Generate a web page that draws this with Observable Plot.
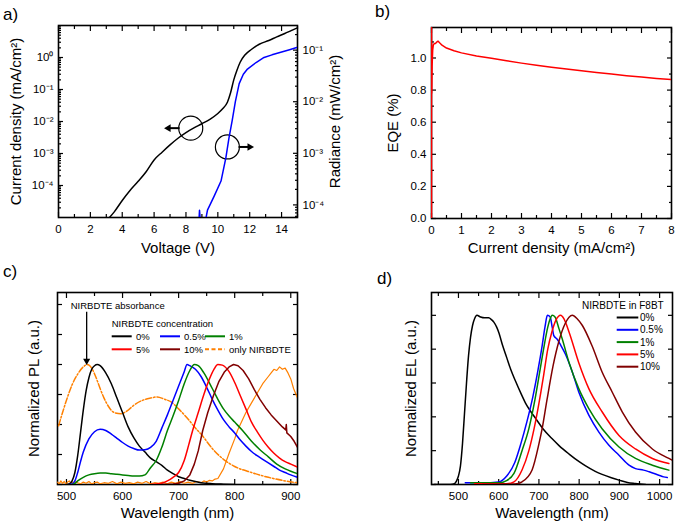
<!DOCTYPE html>
<html><head><meta charset="utf-8">
<script src="https://cdn.jsdelivr.net/npm/d3@7"></script>
<script src="https://cdn.jsdelivr.net/npm/@observablehq/plot@0.6"></script>
<style>
body{margin:0;background:#fff}
#root{position:relative;width:675px;height:531px;overflow:hidden;background:#fff;font-family:"Liberation Sans",Arial,sans-serif}
</style></head><body><div id="root"></div>
<script>
// ---------- Panel a: J-V-L ----------
const voltJ = [3.2,3.5,4,4.5,5,5.5,6,6.5,7,7.5,8,8.5,9,9.5,10,10.3,10.6,10.8,11.0,11.2,11.4,11.7,12.1,12.6,13.2,13.7,14.2,14.6,15];
const currentJ = [1.0e-5,1.5e-5,3.4e-5,7.1e-5,1.35e-4,2.7e-4,6.3e-4,1.1e-3,1.86e-3,3.0e-3,4.5e-3,6.3e-3,8.5e-3,1.17e-2,1.78e-2,2.5e-2,4.0e-2,7.9e-2,0.2,0.4,0.71,1.2,1.78,2.6,3.4,4.4,5.6,6.9,8.5];
const voltL = [8.8,8.85,8.9,8.95,9.2,9.35,9.77,10.2,10.5,10.7,10.9,11.1,11.34,11.6,11.86,12.4,12.9,13.4,13.95,14.5,14.95];
const radiance = [4.0e-5,7.9e-5,5.0e-5,4.5e-5,4.5e-5,7.9e-5,1.48e-4,2.9e-4,8.1e-4,2.0e-3,4.3e-3,1.0e-2,2.24e-2,3.4e-2,4.3e-2,5.75e-2,7.2e-2,8.1e-2,9.1e-2,0.102,0.112];
const circleV = [8.3, 10.6], circleJ = [6.2e-3, 1.6e-3];
const arrowFromV = [7.6, 11.3], arrowToV = [6.9, 12.0], arrowDir = [-90, 90];
const decadesJ = [1e-4,1e-3,1e-2,1e-1,1];
const decadesL = [1e-4,1e-3,1e-2,1e-1];
const voltTicks = [0,2,4,6,8,10,12,14];

// ---------- Panel b: EQE ----------
const currB = [0,0,0.01,0.02,0.04,0.06,0.09,0.13,0.18,0.22,0.27,0.35,0.5,0.75,1,1.5,2,2.5,3,3.5,4,4.5,5,5.5,6,6.5,7,7.5,8];
const eqeB = [0,1.25,0.78,0.95,1.05,1.08,1.09,1.09,1.1,1.105,1.095,1.08,1.062,1.045,1.032,1.012,0.998,0.983,0.968,0.955,0.943,0.931,0.92,0.91,0.9,0.89,0.882,0.873,0.865];
const eqeTicks = [0,0.2,0.4,0.6,0.8,1.0];
const currTicks = [0,1,2,3,4,5,6,7,8];

// ---------- Panel c: PL ----------
const wlPL0 = [500,505,510,515,520,525,530,535,540,545,550,555,560,570,580,590,600,610,620,630,640,650,660,670,680,690,700,710,720,740,760,780,800];
const pl0 = [0,0.005,0.03,0.1,0.24,0.43,0.62,0.78,0.89,0.96,0.99,1.0,0.99,0.93,0.84,0.72,0.6,0.48,0.39,0.32,0.27,0.22,0.19,0.16,0.12,0.09,0.065,0.05,0.035,0.015,0.007,0.003,0];
const wlPL05 = [505,510,515,520,525,530,540,550,560,570,580,590,600,610,620,630,640,650,660,670,680,690,700,710,715,720,730,740,750,760,770,780,790,800,810,820,830,840,850,860,870,880,890,900,912];
const pl05 = [0,0.005,0.03,0.1,0.19,0.27,0.38,0.44,0.46,0.45,0.42,0.385,0.35,0.32,0.3,0.287,0.29,0.31,0.36,0.47,0.58,0.7,0.82,0.94,1.0,0.99,0.96,0.9,0.81,0.71,0.62,0.54,0.48,0.43,0.37,0.32,0.275,0.24,0.21,0.18,0.15,0.12,0.1,0.08,0.06];
const wlPL1 = [510,515,520,530,540,550,560,570,580,590,600,610,620,630,640,650,660,670,680,690,700,710,720,728,735,745,760,770,780,790,800,814,830,845,860,875,890,900,912];
const pl1 = [0,0.01,0.03,0.06,0.08,0.09,0.095,0.095,0.09,0.085,0.08,0.075,0.07,0.07,0.08,0.14,0.2,0.31,0.45,0.57,0.7,0.84,0.95,1.0,0.99,0.93,0.8,0.71,0.63,0.57,0.52,0.45,0.36,0.29,0.23,0.17,0.13,0.11,0.09];
const wlPL5 = [650,660,670,680,690,700,710,718,725,735,745,755,763,770,778,790,800,810,820,830,840,850,860,870,880,890,900,912];
const pl5 = [0,0.005,0.01,0.03,0.06,0.1,0.2,0.33,0.45,0.6,0.75,0.88,0.96,1.0,0.995,0.94,0.85,0.74,0.63,0.52,0.44,0.37,0.31,0.26,0.22,0.19,0.17,0.145];
const wlPL10 = [670,690,700,710,720,728,735,743,752,762,772,782,790,798,806,815,825,835,845,855,865,875,885,891,892,893,900,906,912];
const pl10 = [0,0.005,0.01,0.03,0.08,0.17,0.28,0.45,0.6,0.74,0.86,0.94,0.98,1.0,0.99,0.95,0.88,0.79,0.71,0.64,0.58,0.53,0.48,0.455,0.5,0.43,0.4,0.36,0.31];
const wlAbs = [486,495,502,510,520,530,537,545,552,560,567,575,585,597,610,620,635,650,662,675,686,700,716,730,740,760,780,800,830,860,890,912];
const absOnly = [0.49,0.63,0.73,0.83,0.92,0.98,1.0,0.97,0.9,0.8,0.72,0.65,0.6,0.59,0.62,0.66,0.7,0.72,0.73,0.71,0.69,0.63,0.55,0.47,0.42,0.3,0.21,0.15,0.1,0.06,0.03,0.015];
const wlPLonly = [484,487,490,493,496,499,502,505,508,511,514,517,520,525,530,535,540,545,550,555,560,567,575,582,590,597,605,612,620,627,635,642,650,657,665,672,680,687,695,702,710,717,725,732,740,745,750,755,760,765,770,780,790,800,805,810,820,830,840,850,860,865,870,875,880,885,890,895,900,905,912];
const plOnly = [0.02,0.005,0.03,0.01,0.025,0.005,0.02,0.03,0.01,0.02,0.005,0.025,0.015,0.005,0.02,0.01,0.025,0.005,0.015,0.02,0.005,0.015,0.01,0.025,0.005,0.02,0.01,0.015,0.005,0.02,0.01,0.025,0.005,0.015,0.01,0.02,0.005,0.02,0.01,0.025,0.01,0.02,0.01,0.025,0.015,0.03,0.02,0.035,0.03,0.045,0.05,0.13,0.26,0.38,0.45,0.5,0.6,0.68,0.76,0.84,0.9,0.93,0.96,0.95,0.98,0.96,0.97,0.93,0.88,0.8,0.72];
const absArrowWl = [536], absArrowFrom = [1.44], absArrowTo = [1.03];
const plTicks = [500,600,700,800,900];

// ---------- Panel d: EL ----------
const wlEL0 = [440,480,490,495,500,505,510,515,520,525,530,535,540,546,555,565,575,582,588,595,600,610,620,630,642,655,667,680,692,710,733,750,775,800,816,840,857,880,899,920,940,965];
const el0 = [0,0,0.005,0.02,0.05,0.11,0.24,0.42,0.6,0.76,0.87,0.94,0.98,1.0,0.99,0.985,0.985,0.975,0.96,0.93,0.9,0.82,0.75,0.68,0.61,0.54,0.48,0.43,0.39,0.33,0.27,0.23,0.18,0.135,0.11,0.078,0.06,0.04,0.026,0.012,0.006,0];
const wlEL05 = [517,560,600,620,640,655,670,685,698,708,715,721,728,733,737,745,755,766,783,799,824,849,874,899,924,940,960,974,998,1010,1019];
const el05 = [0.01,0.01,0.015,0.05,0.13,0.24,0.37,0.52,0.68,0.82,0.93,1.0,0.99,0.93,0.88,0.86,0.82,0.77,0.665,0.547,0.41,0.31,0.232,0.173,0.114,0.094,0.085,0.075,0.055,0.045,0.041];
const wlEL1 = [530,600,621,638,658,675,690,703,713,722,728,733,740,750,758,775,799,824,857,899,940,982,1023];
const el1 = [0.01,0.01,0.025,0.066,0.2,0.33,0.5,0.68,0.82,0.93,0.98,1.0,0.99,0.92,0.86,0.72,0.567,0.449,0.33,0.222,0.154,0.114,0.085];
const wlEL5 = [540,620,638,658,675,688,700,712,722,732,742,754,762,775,799,824,857,899,940,982,1023];
const el5 = [0.005,0.005,0.016,0.086,0.2,0.33,0.48,0.65,0.8,0.9,0.97,1.0,0.98,0.9,0.72,0.567,0.43,0.29,0.21,0.154,0.124];
const wlEL10 = [560,640,658,683,700,708,720,735,750,765,783,795,808,832,857,882,907,940,982,1023,1031];
const el10 = [0,0.003,0.016,0.086,0.24,0.33,0.5,0.7,0.85,0.95,1.0,0.98,0.94,0.82,0.665,0.547,0.43,0.31,0.21,0.154,0.144];
const elTicks = [500,600,700,800,900,1000];

const concLabels = ["0%","0.5%","1%","5%","10%"];
const concColors = ["#000000","#0000ff","#008000","#ff0000","#800000"];
const orange = "#ff8000";

// ---------- helpers ----------
const FONT = '"Liberation Sans", Arial, Helvetica, sans-serif';
const root = document.getElementById("root");
const STYLE = {fontFamily: FONT, fontSize: "11px", background: "transparent", overflow: "visible", color: "#000"};
function place(el, left, top) { el.style.position = "absolute"; el.style.left = left + "px"; el.style.top = top + "px"; root.appendChild(el); }
function inX(anchor, ticks, size) {
  return Plot.axisX({anchor, ticks, tickSize: size, dy: anchor === "bottom" ? -size : size, fill: "none", tickFormat: () => "", label: null, strokeWidth: 1.2});
}
function inY(anchor, ticks, size) {
  return Plot.axisY({anchor, ticks, tickSize: size, dx: anchor === "left" ? size : -size, fill: "none", tickFormat: () => "", label: null, strokeWidth: 1.2});
}
function txtX(ticks, fmt) { return Plot.axisX({anchor: "bottom", ticks, tickFormat: fmt, tickSize: 0, tickPadding: 7, label: null, fontSize: 11.5}); }
function txtY(anchor, ticks, fmt) { return Plot.axisY({anchor, ticks, tickFormat: fmt, tickSize: 0, tickPadding: 5, label: null, fontSize: 11.5}); }
function titleX(s, dy) { return Plot.text([s], {frameAnchor: "bottom", dy, text: d => d, fontSize: 15, textAnchor: "middle"}); }
function titleY(s, side, dx) { return Plot.text([s], {frameAnchor: side, dx, rotate: -90, text: d => d, fontSize: 15, textAnchor: "middle"}); }
function range(a, b, s) { const r = []; for (let v = a; v <= b + 1e-9; v += s) r.push(+v.toFixed(6)); return r; }
function logMinors(e0, e1, lo, hi) { const r = []; for (let e = e0; e <= e1; e++) for (let k = 2; k <= 9; k++) { const v = k * Math.pow(10, e); if (v >= lo && v <= hi) r.push(v); } return r; }
const SUP = {"-": "\u207B", "0": "\u2070", "1": "\u00B9", "2": "\u00B2", "3": "\u00B3", "4": "\u2074", "5": "\u2075"};
const pow10 = d => "10" + String(Math.round(Math.log10(d))).split("").map(c => SUP[c]).join("");
const line = (xs, ys, stroke, extra = {}) => Plot.line(xs, {x: xs, y: ys, stroke, strokeWidth: 1.5, clip: true, curve: "monotone-x", ...extra});

// ---------- Panel a ----------
const a1 = Plot.plot({
  width: 337, height: 265, marginLeft: 58, marginRight: 40, marginTop: 25, marginBottom: 48, style: STYLE,
  x: {domain: [0, 15]},
  y: {type: "log", domain: [1e-5, 10]},
  marks: [
    Plot.frame({stroke: "#000", strokeWidth: 1.6}),
    inX("bottom", voltTicks, 5), inX("bottom", range(1, 15, 2), 3),
    inX("top", voltTicks, 5), inX("top", range(1, 15, 2), 3),
    inY("left", decadesJ, 5), inY("left", logMinors(-5, 0, 1e-5, 10), 3),
    txtX(voltTicks, d => String(d)),
    txtY("left", decadesJ, pow10),
    titleX("Voltage (V)", 35),
    titleY("Current density (mA/cm\u00B2)", "left", -42),
    line(voltJ, currentJ, "#000"),
    Plot.dot(circleV, {x: circleV, y: circleJ, r: 12, stroke: "#000", strokeWidth: 1.2, fill: "none"}),
    Plot.link(circleV, {x1: arrowFromV, x2: arrowToV, y1: circleJ, y2: circleJ, stroke: "#000", strokeWidth: 2}),
    Plot.dot(circleV, {x: arrowToV, y: circleJ, symbol: "triangle2", rotate: arrowDir, r: 3.6, fill: "#000", stroke: "none"})
  ]
});
place(a1, 0, 0);
const a2 = Plot.plot({
  width: 337, height: 265, marginLeft: 58, marginRight: 40, marginTop: 25, marginBottom: 48, style: STYLE,
  x: {domain: [0, 15], axis: null},
  y: {type: "log", domain: [5.7e-5, 0.3]},
  marks: [
    inY("right", decadesL, 5), inY("right", logMinors(-5, -1, 5.7e-5, 0.3), 3),
    txtY("right", decadesL, pow10),
    titleY("Radiance (mW/cm\u00B2)", "right", 38),
    line(voltL, radiance, "#0000ff", {curve: "linear"})
  ]
});
place(a2, 0, 0);

// ---------- Panel b ----------
const b = Plot.plot({
  width: 338, height: 265, marginLeft: 94, marginRight: 4, marginTop: 27, marginBottom: 47, style: STYLE,
  x: {domain: [0, 8]},
  y: {domain: [0, 1.19]},
  marks: [
    Plot.frame({stroke: "#000", strokeWidth: 1.6}),
    inX("bottom", currTicks, 5), inX("bottom", range(0.5, 7.5, 1), 3),
    inX("top", currTicks, 5), inX("top", range(0.5, 7.5, 1), 3),
    inY("left", eqeTicks, 5), inY("left", range(0.1, 1.1, 0.2), 3),
    inY("right", eqeTicks, 5), inY("right", range(0.1, 1.1, 0.2), 3),
    txtX(currTicks, d => String(d)),
    txtY("left", eqeTicks, d3.format(".1f")),
    titleX("Current density (mA/cm\u00B2)", 34),
    titleY("EQE (%)", "left", -38),
    line(currB, eqeB, "#ff0000", {curve: "linear"})
  ]
});
place(b, 337, 0);

// ---------- Panel c ----------
const c = Plot.plot({
  width: 337, height: 266, marginLeft: 57, marginRight: 40, marginTop: 27, marginBottom: 47, style: STYLE,
  x: {domain: [484, 912]},
  y: {domain: [0, 1.6]},
  marks: [
    Plot.frame({stroke: "#000", strokeWidth: 1.6}),
    inX("bottom", plTicks, 5), inX("bottom", range(550, 850, 100), 3),
    inX("top", plTicks, 5), inX("top", range(550, 850, 100), 3),
    inY("left", range(0, 1.5, 0.25), 5), inY("right", range(0, 1.5, 0.25), 5),
    txtX(plTicks, d => String(d)),
    titleX("Wavelength (nm)", 33),
    titleY("Normalized PL (a.u.)", "left", -23),
    line(wlPLonly, plOnly, orange, {curve: "linear", strokeWidth: 1.2}),
    line(wlAbs, absOnly, orange, {strokeDasharray: "6,2,1.5,2"}),
    line(wlPL0, pl0, concColors[0]),
    line(wlPL05, pl05, concColors[1]),
    line(wlPL1, pl1, concColors[2]),
    line(wlPL5, pl5, concColors[3]),
    line(wlPL10, pl10, concColors[4], {curve: "linear"}),
    Plot.link(absArrowWl, {x1: absArrowWl, x2: absArrowWl, y1: absArrowFrom, y2: absArrowTo, stroke: "#000", strokeWidth: 1.3}),
    Plot.dot(absArrowWl, {x: absArrowWl, y: absArrowTo, symbol: "triangle2", rotate: 180, r: 3.4, fill: "#000", stroke: "none"})
  ]
});
place(c, 0, 265);

// ---------- Panel d ----------
const d = Plot.plot({
  width: 338, height: 266, marginLeft: 94, marginRight: 3, marginTop: 27, marginBottom: 47, style: STYLE,
  x: {domain: [433, 1032]},
  y: {domain: [0, 1.135]},
  marks: [
    Plot.frame({stroke: "#000", strokeWidth: 1.6}),
    inX("bottom", elTicks, 5), inX("bottom", range(450, 1050, 100), 3),
    inX("top", elTicks, 5), inX("top", range(450, 1050, 100), 3),
    inY("left", range(0, 1, 0.2), 5), inY("right", range(0, 1, 0.2), 5),
    txtX(elTicks, d => String(d)),
    titleX("Wavelength (nm)", 33),
    titleY("Normalized EL (a.u.)", "left", -20),
    line(wlEL0, el0, concColors[0]),
    line(wlEL05, el05, concColors[1]),
    line(wlEL1, el1, concColors[2]),
    line(wlEL5, el5, concColors[3]),
    line(wlEL10, el10, concColors[4])
  ]
});
place(d, 337, 265);

// ---------- overlay: panel letters and legends ----------
const ov = d3.create("svg").attr("width", 675).attr("height", 531)
  .style("position", "absolute").style("left", "0px").style("top", "0px")
  .style("font-family", FONT).style("overflow", "visible");
const letters = [["a)", 3, 20], ["b)", 375, 17], ["c)", 3, 277], ["d)", 377, 284]];
for (const [t, x, y] of letters) ov.append("text").attr("x", x).attr("y", y).attr("font-size", 17).text(t);
function legText(t, x, y, fs) { ov.append("text").attr("x", x).attr("y", y + fs * 0.35).attr("font-size", fs).text(t); }
function legLine(x1, x2, y, color, dash) {
  ov.append("line").attr("x1", x1).attr("x2", x2).attr("y1", y).attr("y2", y)
    .attr("stroke", color).attr("stroke-width", 2).attr("stroke-dasharray", dash || null);
}
legText("NIRBDTE absorbance", 70.7, 306, 9.5);
legText("NIRBDTE concentration", 111.7, 324, 9.5);
const cRows = [[0, 111.7, 336.3, 136], [1, 160, 336.3, 184], [2, 205, 336.3, 229], [3, 111.7, 349.3, 136], [4, 160, 349.3, 184]];
for (const [i, x, y, tx] of cRows) { legLine(x, x + 20, y, concColors[i], null); legText(concLabels[i], tx, y, 9.5); }
legLine(205, 225, 349.3, orange, "4,2.5"); legText("only NIRBDTE", 229, 349.3, 9.5);
legText("NIRBDTE in F8BT", 582, 305, 10);
concLabels.forEach((t, i) => { const y = 317.5 + i * 12.3; legLine(616.7, 638.3, y, concColors[i], null); legText(t, 640, y, 10); });
root.appendChild(ov.node());
</script></body></html>
